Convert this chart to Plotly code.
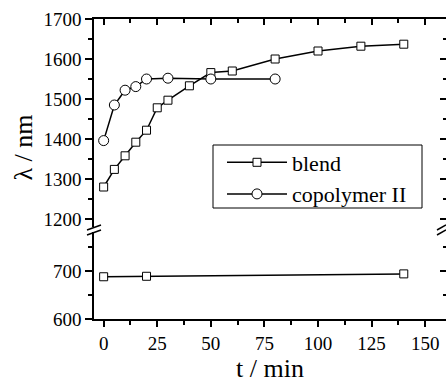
import plotly.graph_objects as go

# Data
t_blend = [0, 5, 10, 15, 20, 25, 30, 40, 50, 60, 80, 100, 120, 140]
lam_blend = [1280, 1324, 1358, 1392, 1422, 1478, 1497, 1533, 1566, 1570, 1600, 1620, 1632, 1637]
t_cop = [0, 5, 10, 15, 20, 30, 50, 80]
lam_cop = [1396, 1485, 1522, 1531, 1550, 1552, 1550, 1550]
t_blend_low = [0, 20, 140]
lam_blend_low = [688, 689, 694]

FONT = "Liberation Serif"
line_style = dict(color="black", width=1.5)
sq = dict(symbol="square", size=8, color="white", line=dict(color="black", width=1))
ci = dict(symbol="circle", size=10, color="white", line=dict(color="black", width=1))

fig = go.Figure()
fig.add_trace(go.Scatter(x=t_blend, y=lam_blend, mode="lines+markers", name="blend",
                         line=line_style, marker=sq, xaxis="x", yaxis="y2"))
fig.add_trace(go.Scatter(x=t_cop, y=lam_cop, mode="lines+markers", name="copolymer II",
                         line=line_style, marker=ci, xaxis="x", yaxis="y2"))
fig.add_trace(go.Scatter(x=t_blend_low, y=lam_blend_low, mode="lines+markers", name="blend",
                         line=line_style, marker=sq, xaxis="x", yaxis="y", showlegend=False))

# invisible traces so that the mirror (top / right) axes get drawn
for xa, ya, yy in [("x2", "y2", lam_blend), ("x", "y3", lam_blend_low), ("x", "y4", lam_blend)]:
    fig.add_trace(go.Scatter(x=t_blend[:len(yy)], y=yy, mode="markers", xaxis=xa, yaxis=ya,
                             marker=dict(opacity=0), showlegend=False, hoverinfo="skip"))

xr = [-4.5, 159.7]
tickfont = dict(family=FONT, size=19, color="black")
common = dict(showline=True, linecolor="black", linewidth=1.5, showgrid=False, zeroline=False,
              tickcolor="black", tickwidth=1.5)

W = 446 - 94
H = 300
def px(xp):
    return (xp - 94) / W
def py(yp):
    return (319 - yp) / H

fig.update_layout(
    width=446, height=383,
    margin=dict(l=94, r=0, t=19, b=64),
    paper_bgcolor="white", plot_bgcolor="white",
    font=dict(family=FONT, color="black"),
    showlegend=True,
    legend=dict(x=px(222), y=py(141.5), xanchor="left", yanchor="top",
                borderwidth=0, bgcolor="rgba(0,0,0,0)",
                font=dict(family=FONT, size=22, color="black"), itemwidth=60,
                tracegroupgap=0),
    xaxis=dict(range=xr, anchor="y", domain=[0, 1], ticks="outside", ticklen=6,
               tickvals=[0, 25, 50, 75, 100, 125, 150], tickfont=tickfont,
               minor=dict(tickvals=[12.5, 37.5, 62.5, 87.5, 112.5, 137.5], ticklen=4,
                          ticks="outside", tickcolor="black", tickwidth=1.5),
               title=dict(text="t / min", font=dict(family=FONT, size=26, color="black"), standoff=6),
               **common),
    xaxis2=dict(range=xr, overlaying="x", anchor="y2", side="top", ticks="inside", ticklen=6,
                tickvals=[0, 25, 50, 75, 100, 125, 150], showticklabels=False,
                minor=dict(tickvals=[12.5, 37.5, 62.5, 87.5, 112.5, 137.5], ticklen=4,
                           ticks="inside", tickcolor="black", tickwidth=1.5),
                **common),
    yaxis=dict(range=[600, 787.5], domain=[0, 0.3], anchor="x", ticks="outside", ticklen=7,
               tickvals=[600, 700], tickfont=tickfont,
               minor=dict(tickvals=[650, 750], ticklen=4, ticks="outside",
                          tickcolor="black", tickwidth=1.5),
               **common),
    yaxis2=dict(range=[1175, 1700], domain=[0.3, 1], anchor="x", ticks="outside", ticklen=7,
                tickvals=[1200, 1300, 1400, 1500, 1600, 1700], tickfont=tickfont,
                minor=dict(tickvals=[1250, 1350, 1450, 1550, 1650], ticklen=4, ticks="outside",
                           tickcolor="black", tickwidth=1.5),
                **common),
    yaxis3=dict(range=[600, 787.5], overlaying="y", anchor="x", side="right", ticks="inside",
                ticklen=6, tickvals=[600, 700], showticklabels=False,
                minor=dict(tickvals=[650, 750], ticklen=3, ticks="inside",
                           tickcolor="black", tickwidth=1.5),
                **common),
    yaxis4=dict(range=[1175, 1700], overlaying="y2", anchor="x", side="right", ticks="inside",
                ticklen=6, tickvals=[1200, 1300, 1400, 1500, 1600, 1700], showticklabels=False,
                minor=dict(tickvals=[1250, 1350, 1450, 1550, 1650], ticklen=3, ticks="inside",
                           tickcolor="black", tickwidth=1.5),
                **common),
)

# legend frame
fig.add_shape(type="rect", xref="paper", yref="paper", x0=px(213), x1=px(422),
              y0=py(208), y1=py(145), line=dict(color="black", width=1),
              fillcolor="rgba(0,0,0,0)", layer="above")

# y-axis title as annotation
fig.add_annotation(text="λ / nm", xref="paper", yref="paper", x=-0.203, y=0.57,
                   textangle=-90, showarrow=False,
                   font=dict(family=FONT, size=26, color="black"),
                   xanchor="center", yanchor="middle")

# axis-break markers
for (xa, xb) in [(87, 101), (437, 446)]:
    fig.add_shape(type="rect", xref="paper", yref="paper", x0=px(xa + 3), x1=px(xb - 2),
                  y0=py(232), y1=py(227), fillcolor="white", line=dict(width=0), layer="above")
    for yo in (0, 5):
        fig.add_shape(type="line", xref="paper", yref="paper",
                      x0=px(xa), y0=py(230 + yo), x1=px(xb), y1=py(225 + yo),
                      line=dict(color="black", width=1.5), layer="above")

fig.write_html("out.html")
